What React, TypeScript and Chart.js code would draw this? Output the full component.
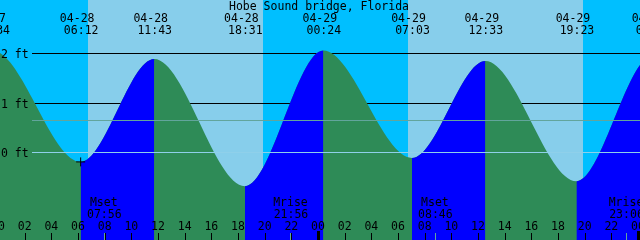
import React, { useEffect, useRef } from 'react';
import { Chart, registerables } from 'chart.js';

Chart.register(...registerables);

// ---- data ----
const TITLE = 'Hobe Sound bridge, Florida';

// tide extremes (high / low) : date, clock time, height in feet
const tideDates = ['04-27', '04-27', '04-28', '04-28', '04-28', '04-29', '04-29', '04-29', '04-29', '04-30', '04-30'];
const tideClock = ['17:20', '23:34', '06:12', '11:43', '18:31', '00:24', '07:03', '12:33', '19:23', '01:05', '07:50'];
const tideFeet = [-0.6, 2.05, -0.2, 1.88, -0.69, 2.05, -0.12, 1.84, -0.59, 1.94, -0.1];

// moon events
const moonKinds = ['Mset', 'Mrise', 'Mset', 'Mrise'];
const moonDates = ['04-28', '04-28', '04-29', '04-29'];
const moonClock = ['07:56', '21:56', '08:46', '23:06'];

// daylight
const sunriseDates = ['04-28', '04-29'];
const sunriseClock = ['06:45', '06:45'];
const sunsetDates = ['04-28', '04-29'];
const sunsetClock = ['19:52', '19:52'];

// "+" mark
const markDate = '04-28';
const markClock = '06:12';
const markFeet = -0.2;

// axes
const hourTickValues = [0, 2, 4, 6, 8, 10, 12, 14, 16, 18, 20, 22, 24, 26, 28, 30, 32, 34, 36, 38, 40, 42, 44, 46, 48];
const hourTickLabels = ['00', '02', '04', '06', '08', '10', '12', '14', '16', '18', '20', '22', '00', '02', '04', '06', '08', '10', '12', '14', '16', '18', '20', '22', '00'];
const depthTicks = [0, 1, 2];
const depthLabels = ['0 ft', '1 ft', '2 ft'];
const meanLevel = 0.65;

// ---- style ----
const NIGHT = '#00BFFF';
const DAY = '#87CEEB';
const EBB = '#2E8B57';
const FLOOD = '#0000FF';
const MEAN_COLOR = '#62A59C';
const DATUM_COLOR = '#8FD0EA';
const FONT = '11.5px "DejaVu Sans Mono"';

const X_MIN = 0.15;
const X_MAX = 48.15;
const Y_MIN = -1.778;
const Y_MAX = 3.071;

function toHours(date: string, clock: string): number {
  const day = parseInt(date.slice(3), 10) - 28;
  const [hh, mm] = clock.split(':').map((s) => parseInt(s, 10));
  return day * 24 + hh + mm / 60;
}

const tidePoints = tideClock.map((c, i) => ({ x: toHours(tideDates[i], c), y: tideFeet[i] }));

const decorPlugin = {
  id: 'tideDecor',
  beforeDatasetsDraw(chart: any) {
    const { ctx, chartArea: a, scales } = chart;
    const xs = scales.x;
    const ys = scales.y;
    ctx.save();
    ctx.fillStyle = NIGHT;
    ctx.fillRect(a.left, a.top, a.right - a.left, a.bottom - a.top);
    ctx.fillStyle = DAY;
    for (let i = 0; i < sunriseClock.length; i++) {
      const x0 = Math.round(xs.getPixelForValue(toHours(sunriseDates[i], sunriseClock[i])));
      const x1 = Math.round(xs.getPixelForValue(toHours(sunsetDates[i], sunsetClock[i])));
      ctx.fillRect(x0, a.top, x1 - x0, a.bottom - a.top);
    }
    ctx.strokeStyle = '#000';
    ctx.lineWidth = 1;
    for (const v of depthTicks) {
      if (v === 0) continue;
      const py = Math.round(ys.getPixelForValue(v)) + 0.5;
      ctx.beginPath();
      ctx.moveTo(32, py);
      ctx.lineTo(a.right, py);
      ctx.stroke();
    }
    ctx.restore();
  },
  afterDatasetsDraw(chart: any) {
    const { ctx, chartArea: a, scales } = chart;
    const xs = scales.x;
    const ys = scales.y;
    ctx.save();
    ctx.lineWidth = 1;
    // mean level line
    let py = Math.round(ys.getPixelForValue(meanLevel)) + 0.5;
    ctx.strokeStyle = MEAN_COLOR;
    ctx.beginPath();
    ctx.moveTo(32, py);
    ctx.lineTo(a.right, py);
    ctx.stroke();
    // datum line
    py = Math.round(ys.getPixelForValue(0)) + 0.5;
    ctx.strokeStyle = DATUM_COLOR;
    ctx.beginPath();
    ctx.moveTo(32, py);
    ctx.lineTo(a.right, py);
    ctx.stroke();

    ctx.font = FONT;
    ctx.fillStyle = '#000';
    ctx.textBaseline = 'alphabetic';

    // depth labels
    ctx.textAlign = 'left';
    depthTicks.forEach((v, i) => {
      const y = Math.round(ys.getPixelForValue(v));
      ctx.fillText(depthLabels[i], 1, y + 4.5);
    });

    // title
    ctx.textAlign = 'center';
    ctx.fillText(TITLE, 319, 10);

    // tide event labels
    tidePoints.forEach((p, i) => {
      const x = xs.getPixelForValue(p.x);
      ctx.fillText(tideDates[i], x - 3.5, 22);
      ctx.fillText(tideClock[i], x + 0.5, 33.5);
    });

    // moon labels + marks
    moonKinds.forEach((k, i) => {
      const x = xs.getPixelForValue(toHours(moonDates[i], moonClock[i]));
      ctx.fillStyle = '#000';
      ctx.fillText(k, x, 206);
      ctx.fillText(moonClock[i], x + 0.5, 218);
      ctx.strokeStyle = MEAN_COLOR;
      ctx.beginPath();
      ctx.moveTo(Math.round(x) + 0.5, 233);
      ctx.lineTo(Math.round(x) + 0.5, a.bottom);
      ctx.stroke();
    });

    // hour ticks + labels
    ctx.fillStyle = '#000';
    ctx.strokeStyle = '#000';
    hourTickValues.forEach((h, i) => {
      const x = xs.getPixelForValue(h);
      const rx = Math.round(x);
      if (h % 24 === 0) {
        ctx.fillRect(rx - 1, 231, 3, a.bottom - 231);
      } else {
        ctx.beginPath();
        ctx.moveTo(rx + 0.5, 233);
        ctx.lineTo(rx + 0.5, a.bottom);
        ctx.stroke();
      }
      ctx.fillText(hourTickLabels[i], x, 230);
    });
    ctx.restore();
  },
};

export default function App() {
  const ref = useRef<HTMLCanvasElement | null>(null);
  useEffect(() => {
    document.body.style.margin = '0';
    const canvas = ref.current;
    if (!canvas) return;
    const chart = new Chart(canvas, {
      type: 'line',
      data: {
        datasets: [
          {
            label: 'tide-ebb',
            data: tidePoints,
            parsing: false,
            cubicInterpolationMode: 'monotone',
            fill: 'start',
            borderColor: 'rgba(0,0,0,0)',
            borderWidth: 0,
            backgroundColor: EBB,
            pointRadius: 0,
            pointHoverRadius: 0,
            capBezierPoints: false,
            order: 3,
          } as any,
          {
            label: 'tide-flood',
            data: tidePoints,
            parsing: false,
            cubicInterpolationMode: 'monotone',
            fill: 'start',
            borderColor: 'rgba(0,0,0,0)',
            borderWidth: 0,
            backgroundColor: 'rgba(0,0,0,0)',
            pointRadius: 0,
            pointHoverRadius: 0,
            capBezierPoints: false,
            segment: {
              backgroundColor: (c: any) => (c.p1.parsed.y > c.p0.parsed.y ? FLOOD : 'rgba(0,0,0,0)'),
            },
            order: 2,
          } as any,
          {
            label: 'mark',
            data: [{ x: toHours(markDate, markClock), y: markFeet }],
            showLine: false,
            pointStyle: 'cross',
            pointRadius: 4.5,
            pointBorderWidth: 1,
            pointBorderColor: '#000',
            borderColor: '#000',
            fill: false,
            order: 1,
          } as any,
        ],
      },
      options: {
        responsive: false,
        animation: false,
        events: [],
        layout: { padding: 0, autoPadding: false },
        plugins: {
          legend: { display: false },
          tooltip: { enabled: false },
          title: { display: false },
        },
        scales: {
          x: { type: 'linear', min: X_MIN, max: X_MAX, display: false },
          y: { type: 'linear', min: Y_MIN, max: Y_MAX, display: false },
        },
      },
      plugins: [decorPlugin],
    });
    return () => chart.destroy();
  }, []);
  return <canvas ref={ref} width={640} height={240} style={{ display: 'block' }} />;
}
